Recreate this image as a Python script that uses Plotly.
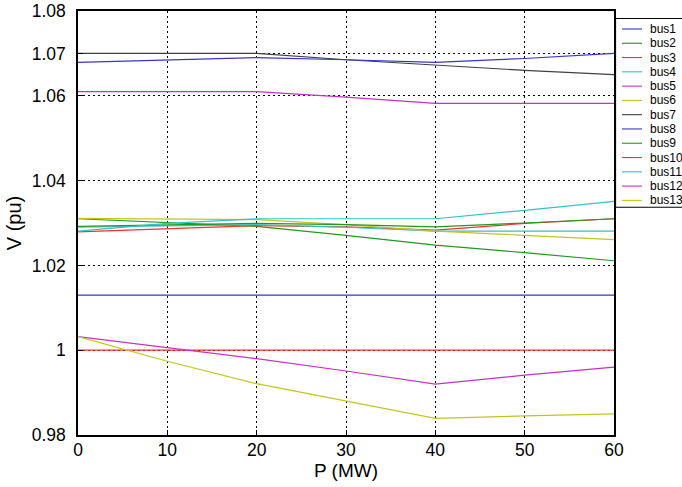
import plotly.graph_objects as go

# ---- data ----
P = [0, 10, 20, 30, 40, 50, 60]
bus1 = [1.0130, 1.0130, 1.0130, 1.0130, 1.0130, 1.0130, 1.0130]
bus2 = [1.0310, 1.0301, 1.0292, 1.0271, 1.0248, 1.0230, 1.0211]
bus3 = [1.0279, 1.0287, 1.0294, 1.0291, 1.0283, 1.0299, 1.0310]
bus4 = [1.0290, 1.0293, 1.0296, 1.0290, 1.0281, 1.0281, 1.0281]
bus5 = [1.0610, 1.0610, 1.0610, 1.0597, 1.0582, 1.0582, 1.0582]
bus6 = [1.0311, 1.0310, 1.0308, 1.0296, 1.0281, 1.0271, 1.0261]
bus7 = [1.0700, 1.0700, 1.0700, 1.0685, 1.0672, 1.0660, 1.0650]
bus8 = [1.0679, 1.0684, 1.0690, 1.0685, 1.0679, 1.0688, 1.0700]
bus9 = [1.0292, 1.0296, 1.0299, 1.0296, 1.0291, 1.0300, 1.0310]
bus10 = [1.0000, 1.0000, 1.0000, 1.0000, 1.0000, 1.0000, 1.0000]
bus11 = [1.0281, 1.0299, 1.0310, 1.0310, 1.0310, 1.0330, 1.0351]
bus12 = [1.0032, 1.0006, 0.9980, 0.9951, 0.9920, 0.9941, 0.9960]
bus13 = [1.0032, 0.9974, 0.9921, 0.9880, 0.9839, 0.9845, 0.9850]

names = ["bus1", "bus2", "bus3", "bus4", "bus5", "bus6", "bus7",
         "bus8", "bus9", "bus10", "bus11", "bus12", "bus13"]
series = [bus1, bus2, bus3, bus4, bus5, bus6, bus7,
          bus8, bus9, bus10, bus11, bus12, bus13]

y_tickvals = [0.98, 1.00, 1.02, 1.04, 1.06, 1.07, 1.08]
y_ticktext = ["0.98", "1", "1.02", "1.04", "1.06", "1.07", "1.08"]
x_tickvals = [0, 10, 20, 30, 40, 50, 60]

# MATLAB-like colour order b g r c m y k
base_colors = ["#3535cc", "#1f9a1f", "#ff3030", "#30c4c4", "#c530c5", "#c4c420", "#404040"]
colors = [base_colors[i % 7] for i in range(len(names))]

# ---- layout geometry ----
W, H = 682, 487
L, R, T, B = 78, 614, 10.5, 435

fig = go.Figure()
for nm, ys, c in zip(names, series, colors):
    fig.add_trace(go.Scatter(x=P, y=ys, mode="lines", name=nm,
                             line=dict(color=c, width=1.2), showlegend=False))

font_family = "Liberation Sans, Arial, sans-serif"
axis_common = dict(showline=True, linecolor="black", linewidth=1.5, mirror=True,
                   ticks="inside", ticklen=5, tickcolor="black", tickwidth=1.3,
                   showgrid=True, gridcolor="black", gridwidth=1, griddash="2px,3px",
                   zeroline=False, automargin=False,
                   tickfont=dict(family=font_family, size=17.5, color="black"))

fig.update_xaxes(range=[0, 60], tickmode="array", tickvals=x_tickvals,
                 title=dict(text="P (MW)", font=dict(family=font_family, size=19, color="black"),
                            standoff=0),
                 ticklabelstandoff=-2, **axis_common)
fig.update_yaxes(range=[0.98, 1.08], tickmode="array", tickvals=y_tickvals, ticktext=y_ticktext,
                 title=dict(text="V (pu)", font=dict(family=font_family, size=20, color="black"),
                            standoff=5),
                 ticklabelstandoff=7, **axis_common)

# ---- legend box (MATLAB style, clipped at the right edge) ----
def px(xp):
    return (xp - L) / (R - L)

def py(yp):
    return (B - yp) / (B - T)

shapes = [dict(type="rect", xref="paper", yref="paper",
               x0=px(615.5), x1=px(700), y0=py(18), y1=py(207),
               fillcolor="white", line=dict(color="black", width=1.2), layer="above")]
annotations = []
for i, (nm, c) in enumerate(zip(names, colors)):
    yy = 28.5 + i * 14.3
    shapes.append(dict(type="line", xref="paper", yref="paper",
                       x0=px(622), x1=px(642), y0=py(yy), y1=py(yy),
                       line=dict(color=c, width=1.1), layer="above"))
    annotations.append(dict(xref="paper", yref="paper", x=px(648), y=py(yy),
                            text=nm, showarrow=False, xanchor="left", yanchor="middle",
                            font=dict(family=font_family, size=12, color="black")))

fig.update_layout(width=W, height=H, margin=dict(l=L, r=W - R, t=T, b=H - B, autoexpand=False),
                  plot_bgcolor="white", paper_bgcolor="white",
                  shapes=shapes, annotations=annotations,
                  font=dict(family=font_family, color="black"))

fig.write_html("out.html", config={"displayModeBar": False},
               post_script="document.body.style.margin='0';document.body.style.overflow='hidden';")
